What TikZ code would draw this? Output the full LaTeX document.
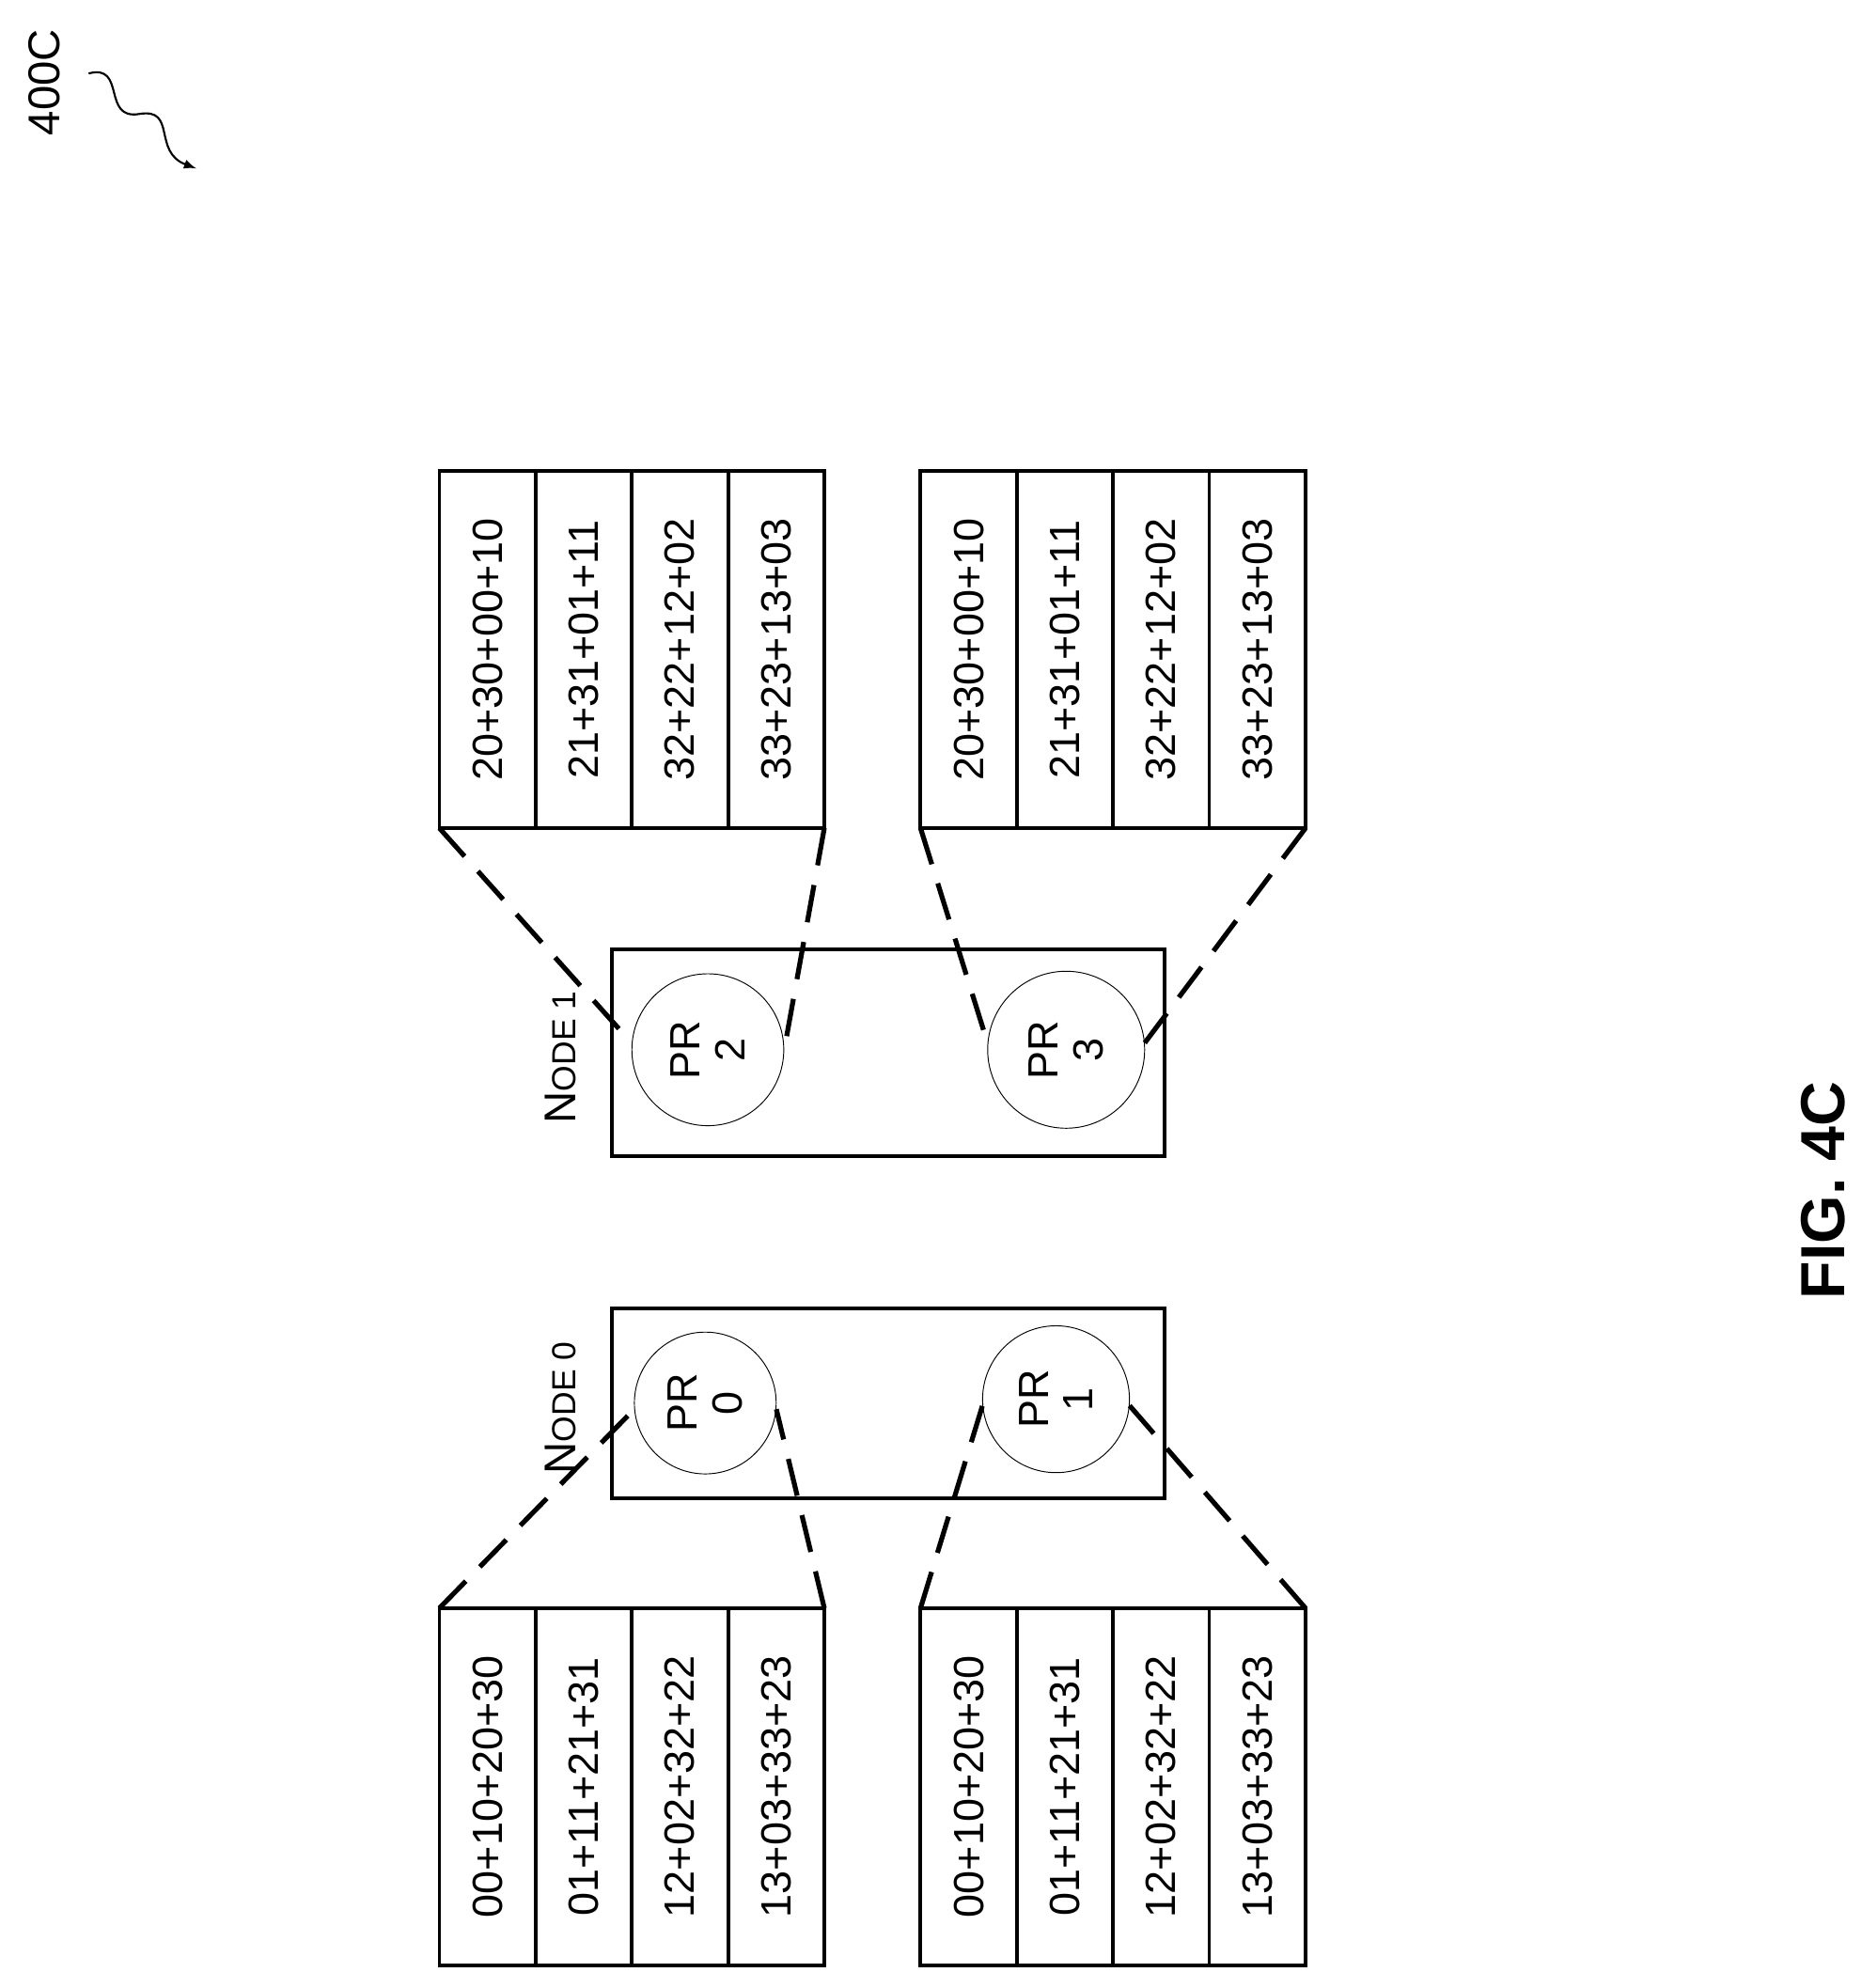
\documentclass[tikz,border=0pt]{standalone}
\usepackage{fontspec}
\setmainfont{Liberation Sans}
\begin{document}
\begin{tikzpicture}[x=0.02cm,y=-0.02cm,
  tablebox/.style={draw, line width=1.6pt},
  celltext/.style={rotate=90, font=\fontsize{19}{22}\selectfont},
  nodebox/.style={draw, line width=1.6pt},
  procc/.style={draw, circle, line width=0.4pt, inner sep=0pt},
  proctext/.style={rotate=90, align=center, font=\fontsize{19}{20}\selectfont},
  zoomline/.style={line width=2.2pt, dash pattern=on 17pt off 9pt}]
\useasboundingbox (0,0) rectangle (1470,1570);
% label and squiggle
\node[rotate=90, font=\fontsize{20}{22}\selectfont] (fignum) at (35,65) {400C};
\draw[line width=0.9pt, -latex] (70,58) .. controls (100,50) and (80,95) .. (110,90) .. controls (140,85) and (120,120) .. (155,133);
% tables
\foreach \tx/\ty/\nm/\a/\b/\c/\d in {347/1270/bl/00+10+20+30/01+11+21+31/12+02+32+22/13+03+33+23,
  727/1270/br/00+10+20+30/01+11+21+31/12+02+32+22/13+03+33+23,
  347/372/tl/20+30+00+10/21+31+01+11/32+22+12+02/33+23+13+03,
  727/372/tr/20+30+00+10/21+31+01+11/32+22+12+02/33+23+13+03}{
  \draw[tablebox] (\tx,\ty) rectangle ++(304,282);
  \foreach \k in {1,2,3}{\draw[tablebox] (\tx+76*\k,\ty) -- ++(0,282);}
  \coordinate (\nm a) at (\tx,\ty);
  \coordinate (\nm b) at (\tx+304,\ty);
  \coordinate (\nm c) at (\tx,\ty+282);
  \coordinate (\nm d) at (\tx+304,\ty+282);
  \node[celltext] (\nm1) at (\tx+38,\ty+141) {\a};
  \node[celltext] (\nm2) at (\tx+114,\ty+141) {\b};
  \node[celltext] (\nm3) at (\tx+190,\ty+141) {\c};
  \node[celltext] (\nm4) at (\tx+266,\ty+141) {\d};
}
% nodes
\draw[nodebox] (483,750) rectangle (920,913);
\draw[nodebox] (483,1033) rectangle (920,1183);
\node[rotate=90, font=\fontsize{20}{22}\selectfont] (nodeone) at (443,835) {N\fontsize{15}{18}\selectfont ODE 1};
\node[rotate=90, font=\fontsize{20}{22}\selectfont] (nodezero) at (443,1112) {N\fontsize{15}{18}\selectfont ODE 0};
\node[procc, minimum size=2.4cm] (pr2) at (559,829) {};
\node[procc, minimum size=2.48cm] (pr3) at (842,829) {};
\node[procc, minimum size=2.24cm] (pr0) at (557,1108) {};
\node[procc, minimum size=2.32cm] (pr1) at (834,1105) {};
\node[proctext] (pr2t) at (pr2) {PR\\2};
\node[proctext] (pr3t) at (pr3) {PR\\3};
\node[proctext] (pr0t) at (pr0) {PR\\0};
\node[proctext] (pr1t) at (pr1) {PR\\1};
% zoom lines
\draw[zoomline] (tlc) -- (pr2.175);
\draw[zoomline] (tld) -- (pr2.0);
\draw[zoomline] (trc) -- (pr3.175);
\draw[zoomline] (trd) -- (pr3.5);
\draw[zoomline] (bla) -- (pr0.185);
\draw[zoomline] (blb) -- (pr0.355);
\draw[zoomline] (bra) -- (pr1.185);
\draw[zoomline] (brb) -- (pr1.355);
\node[rotate=90, font=\bfseries\fontsize{28}{30}\selectfont] (figlabel) at (1440,940) {FIG. 4C};
\end{tikzpicture}
\end{document}
